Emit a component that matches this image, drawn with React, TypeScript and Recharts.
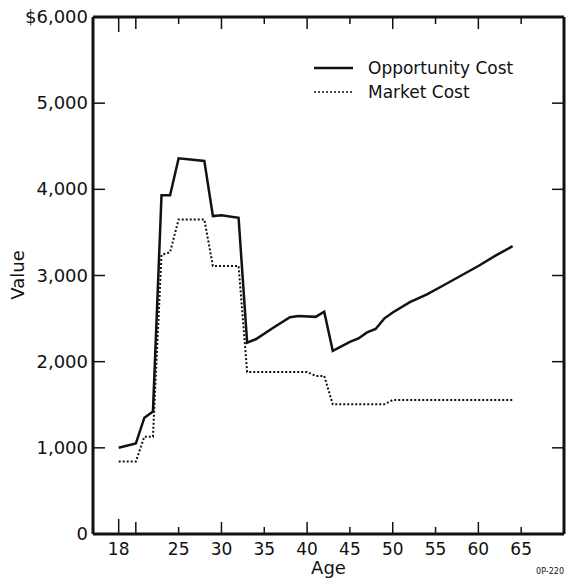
import React from "react"
import { Legend, Line, LineChart, ReferenceLine, XAxis, YAxis } from "recharts"

// Opportunity cost (solid line), breakpoints
const oppAges = [18, 20, 21, 22, 23, 24, 25, 28, 29, 30, 32, 33, 34, 36, 38, 39, 41, 42, 43, 45, 46, 47, 48, 49, 50, 52, 54, 56, 58, 60, 62, 64]
const oppValues = [1000, 1050, 1350, 1420, 3930, 3930, 4360, 4330, 3690, 3700, 3670, 2220, 2260, 2390, 2515, 2530, 2520, 2580, 2125, 2230, 2270, 2340, 2380, 2500, 2570, 2690, 2780, 2890, 3000, 3110, 3230, 3340]

// Market cost (dotted line)
const mktAges = [18, 20, 21, 22, 23, 24, 25, 28, 29, 32, 33, 40, 41, 42, 43, 49, 50, 64]
const mktValues = [840, 840, 1130, 1130, 3240, 3270, 3650, 3650, 3110, 3110, 1880, 1880, 1835, 1835, 1505, 1505, 1555, 1555]

const ageTicks = [18, 20, 25, 30, 35, 40, 45, 50, 55, 60, 65]
const ageLabels = ["18", "", "25", "30", "35", "40", "45", "50", "55", "60", "65"]
const valueTicks = [0, 1000, 2000, 3000, 4000, 5000, 6000]
const valueLabels = ["0", "1,000", "2,000", "3,000", "4,000", "5,000", "$6,000"]

const oppData = oppAges.map((age, i) => ({ age, value: oppValues[i] }))
const mktData = mktAges.map((age, i) => ({ age, value: mktValues[i] }))

const FONT = "'DejaVu Sans', sans-serif"
const INK = "#111"
const AGE_MIN = 15
const AGE_MAX = 70
const VALUE_MAX = 6000

const tickLen = (v: number) => (v === 18 ? 15 : v % 10 === 0 ? 12 : 7)

const AgeTick = ({ x, y, payload }: any) => {
  const i = ageTicks.indexOf(payload.value)
  return (
    <text x={x} y={y + 21} textAnchor="middle" fontSize={17} fontFamily={FONT} fill={INK}>
      {ageLabels[i]}
    </text>
  )
}

const ValueTick = ({ x, y, payload }: any) => {
  const i = valueTicks.indexOf(payload.value)
  return (
    <text x={x - 5} y={y + 6} textAnchor="end" fontSize={18} fontFamily={FONT} fill={INK}>
      {valueLabels[i]}
    </text>
  )
}

// inward tick marks at both ends of a vertical reference line (bottom + top frame)
const vTick = (len: number) => (p: any) => {
  const yb = Math.max(p.y1, p.y2)
  const yt = Math.min(p.y1, p.y2)
  return (
    <g>
      <line x1={p.x1} x2={p.x1} y1={yb} y2={yb - len} stroke={INK} strokeWidth={1.5} />
      <line x1={p.x1} x2={p.x1} y1={yt} y2={yt + len} stroke={INK} strokeWidth={1.5} />
    </g>
  )
}

// inward tick marks at both ends of a horizontal reference line (left + right frame)
const hTick = (p: any) => {
  const xl = Math.min(p.x1, p.x2)
  const xr = Math.max(p.x1, p.x2)
  return (
    <g>
      <line x1={xl} x2={xl + 12} y1={p.y1} y2={p.y1} stroke={INK} strokeWidth={1.5} />
      <line x1={xr} x2={xr - 12} y1={p.y1} y2={p.y1} stroke={INK} strokeWidth={1.5} />
    </g>
  )
}

const AgeLabel = ({ viewBox }: any) => (
  <g>
    <text x={viewBox.x + viewBox.width / 2} y={574} textAnchor="middle" fontSize={18} fontFamily={FONT} fill={INK}>
      Age
    </text>
    <text x={564} y={574} textAnchor="end" fontSize={8} fontFamily={FONT} fill={INK}>
      0P-220
    </text>
  </g>
)

const ValueLabel = () => (
  <text x={24} y={275} transform="rotate(-90, 24, 275)" textAnchor="middle" fontSize={18} fontFamily={FONT} fill={INK}>
    Value
  </text>
)

const LegendBox = () => (
  <div style={{ fontFamily: FONT, fontSize: 17, color: INK, lineHeight: "24px" }}>
    {[
      { name: "Opportunity Cost", dash: undefined },
      { name: "Market Cost", dash: "2 2" },
    ].map((d) => (
      <div key={d.name} style={{ display: "flex", alignItems: "center" }}>
        <svg width={54} height={24}>
          <line x1={0} x2={39} y1={12} y2={12} stroke={INK} strokeWidth={d.dash ? 1.5 : 2.5} strokeDasharray={d.dash} />
        </svg>
        <span>{d.name}</span>
      </div>
    ))}
  </div>
)

export default function App() {
  return (
    <div style={{ width: 569, height: 581, background: "#fff" }}>
      <style>{`body{margin:0}`}</style>
      <LineChart width={569} height={581} margin={{ top: 17, right: 5, bottom: 0, left: 0 }}>
        <XAxis
          dataKey="age"
          type="number"
          domain={[AGE_MIN, AGE_MAX]}
          ticks={ageTicks}
          interval={0}
          height={47}
          tickSize={0}
          tickMargin={0}
          tickLine={false}
          tick={<AgeTick />}
          axisLine={{ stroke: INK, strokeWidth: 3 }}
          label={<AgeLabel />}
          allowDataOverflow
        />
        <YAxis
          type="number"
          domain={[0, VALUE_MAX]}
          ticks={valueTicks}
          interval={0}
          width={93}
          tickSize={0}
          tickMargin={0}
          tickLine={false}
          tick={<ValueTick />}
          axisLine={{ stroke: INK, strokeWidth: 3 }}
          label={<ValueLabel />}
        />
        {/* top and right edges of the frame */}
        <ReferenceLine y={VALUE_MAX} stroke={INK} strokeWidth={3} />
        <ReferenceLine x={AGE_MAX} stroke={INK} strokeWidth={3} />
        {ageTicks.map((v) => (
          <ReferenceLine key={"x" + v} x={v} shape={vTick(tickLen(v))} />
        ))}
        {valueTicks.slice(1, -1).map((v) => (
          <ReferenceLine key={"y" + v} y={v} shape={hTick} />
        ))}
        <Legend
          layout="horizontal"
          verticalAlign="middle"
          align="center"
          content={<LegendBox />}
          wrapperStyle={{ top: 56, left: 314, width: 240 }}
        />
        <Line
          data={oppData}
          dataKey="value"
          name="Opportunity Cost"
          stroke={INK}
          strokeWidth={2.5}
          dot={false}
          isAnimationActive={false}
        />
        <Line
          data={mktData}
          dataKey="value"
          name="Market Cost"
          stroke={INK}
          strokeWidth={2}
          strokeDasharray="2 2"
          dot={false}
          isAnimationActive={false}
        />
      </LineChart>
    </div>
  )
}
